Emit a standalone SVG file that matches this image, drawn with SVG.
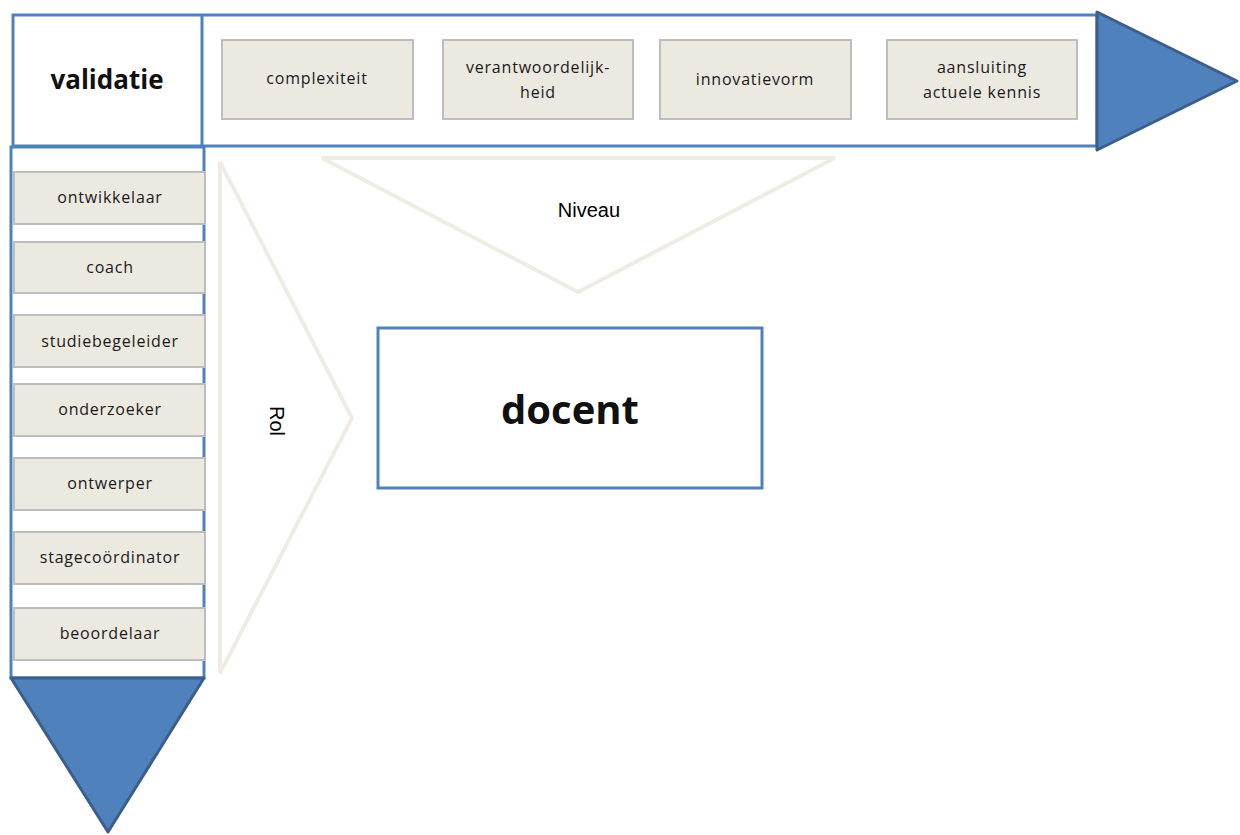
<svg xmlns="http://www.w3.org/2000/svg" width="1240" height="835" viewBox="0 0 1240 835">
  <defs>
    <style>
      .frame { fill: #ffffff; stroke: #4F81BD; stroke-width: 3; }
      .head { fill: #4F81BD; stroke: #3B5E8C; stroke-width: 3; stroke-linejoin: round; }
      .tile { fill: #ECE9E0; stroke: #BDBDBD; stroke-width: 2; }
      .tile-text { font-family: "Open Sans", "Noto Sans", "DejaVu Sans", sans-serif; font-size: 16px; fill: #1a1a1a; text-anchor: middle; letter-spacing: 0.8px; }
      .chevron { fill: none; stroke: #EEECE3; stroke-width: 4; stroke-linejoin: miter; }
      .label { font-family: "Liberation Sans", Arial, sans-serif; font-size: 20px; fill: #000000; text-anchor: middle; }
      .title { font-family: "Open Sans", "Noto Sans", sans-serif; font-weight: bold; fill: #111111; text-anchor: middle; }
    </style>
  </defs>

  <!-- horizontal axis: level bar with arrow head -->
  <g id="niveau-bar">
    <rect class="frame" x="13" y="15" width="1084" height="131"/>
    <line x1="202" y1="15" x2="202" y2="146" stroke="#4F81BD" stroke-width="3"/>
    <polygon class="head" points="1097,12 1237,81 1097,150"/>
  </g>

  <!-- vertical axis: role column with arrow head -->
  <g id="rol-bar">
    <rect class="frame" x="11" y="147" width="193" height="531"/>
    <polygon class="head" points="11,678 204,678 108,832"/>
  </g>

  <g id="validatie">
    <text class="title" x="107" y="89" font-size="26">validatie</text>
  </g>

  <!-- level criteria -->
  <g id="complexiteit">
    <rect class="tile" x="222" y="40" width="191" height="79"/>
    <text class="tile-text" x="317" y="84">complexiteit</text>
  </g>
  <g id="verantwoordelijkheid">
    <rect class="tile" x="443" y="40" width="190" height="79"/>
    <text class="tile-text" x="538" y="73">verantwoordelijk-</text>
    <text class="tile-text" x="538" y="98">heid</text>
  </g>
  <g id="innovatievorm">
    <rect class="tile" x="660" y="40" width="191" height="79"/>
    <text class="tile-text" x="755" y="85">innovatievorm</text>
  </g>
  <g id="aansluiting">
    <rect class="tile" x="887" y="40" width="190" height="79"/>
    <text class="tile-text" x="982" y="73">aansluiting</text>
    <text class="tile-text" x="982" y="98">actuele kennis</text>
  </g>

  <!-- roles -->
  <g id="ontwikkelaar">
    <rect class="tile" x="14" y="172" width="191" height="52"/>
    <text class="tile-text" x="110" y="203">ontwikkelaar</text>
  </g>
  <g id="coach">
    <rect class="tile" x="14" y="242" width="191" height="51"/>
    <text class="tile-text" x="110" y="273">coach</text>
  </g>
  <g id="studiebegeleider">
    <rect class="tile" x="14" y="315" width="191" height="52"/>
    <text class="tile-text" x="110" y="347">studiebegeleider</text>
  </g>
  <g id="onderzoeker">
    <rect class="tile" x="14" y="384" width="191" height="52"/>
    <text class="tile-text" x="110" y="415">onderzoeker</text>
  </g>
  <g id="ontwerper">
    <rect class="tile" x="14" y="458" width="191" height="52"/>
    <text class="tile-text" x="110" y="489">ontwerper</text>
  </g>
  <g id="stagecoordinator">
    <rect class="tile" x="14" y="532" width="191" height="52"/>
    <text class="tile-text" x="110" y="563">stagecoördinator</text>
  </g>
  <g id="beoordelaar">
    <rect class="tile" x="14" y="608" width="191" height="52"/>
    <text class="tile-text" x="110" y="639">beoordelaar</text>
  </g>

  <!-- pointers towards the teacher -->
  <g id="connectors">
    <polygon class="chevron" points="322,158 835,158 578,292"/>
    <polygon class="chevron" points="220,162 352,418 220,673"/>
  </g>

  <g id="niveau-label">
    <text class="label" x="589" y="217">Niveau</text>
  </g>
  <g id="rol-label">
    <text class="label" transform="translate(270,421) rotate(90)">Rol</text>
  </g>

  <g id="docent">
    <rect class="frame" x="378" y="328" width="384" height="160"/>
    <text class="title" x="570" y="424" font-size="40" font-weight="600">docent</text>
  </g>
</svg>
